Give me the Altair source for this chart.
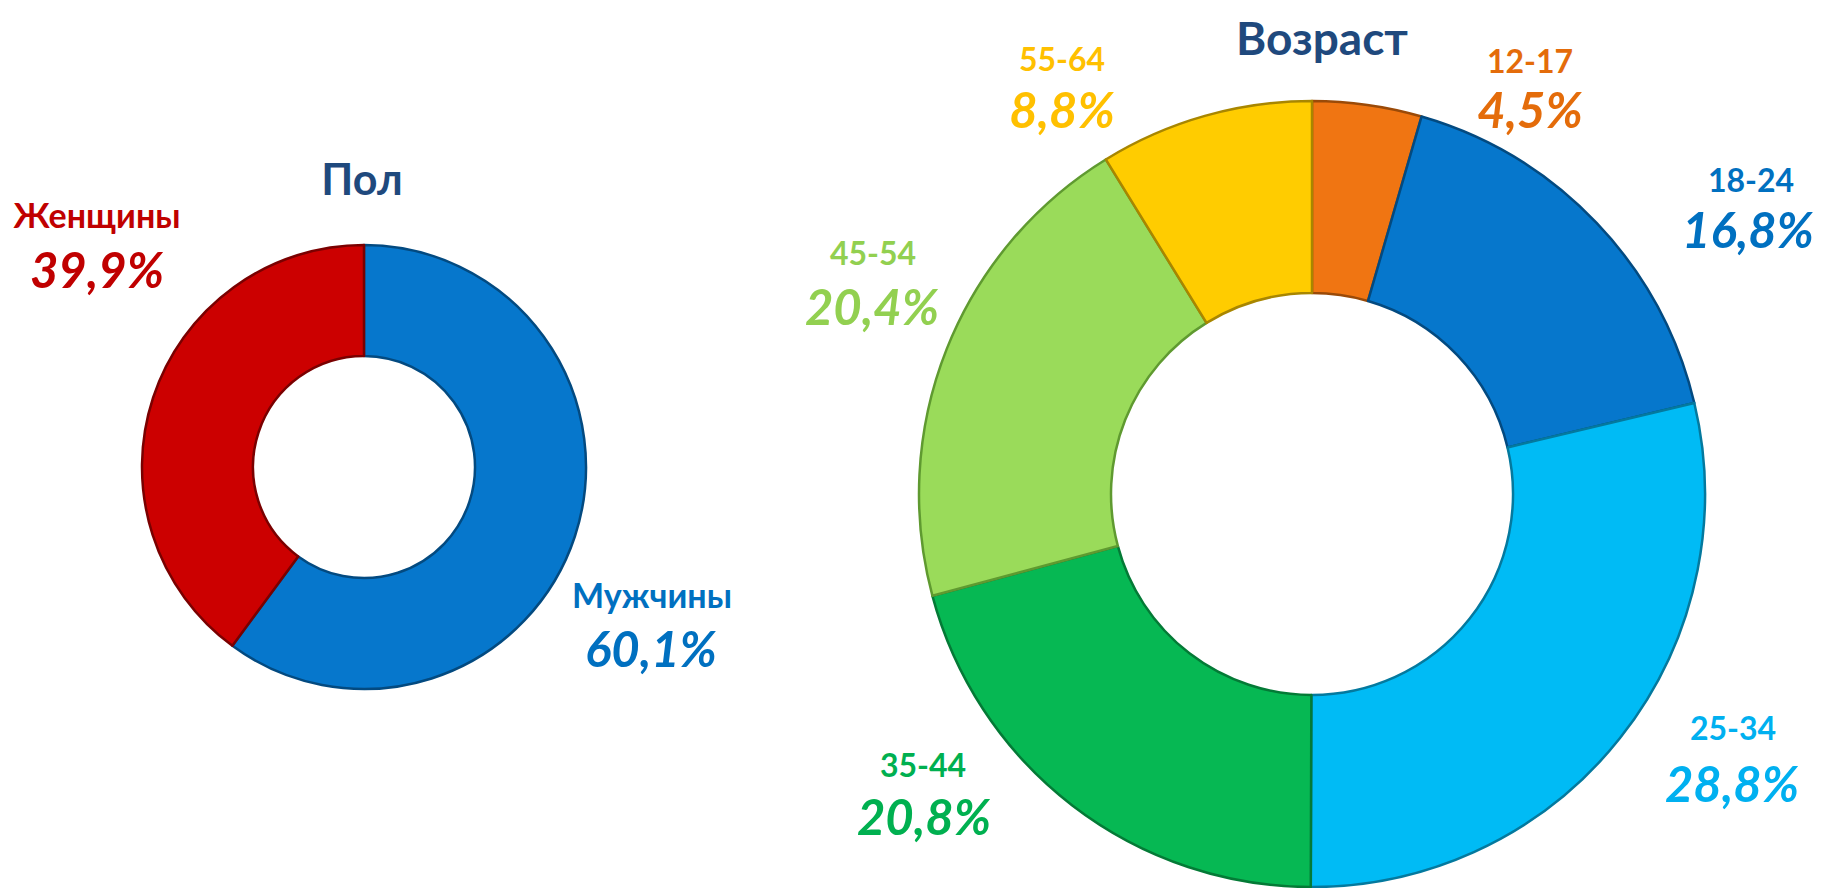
import altair as alt
import pandas as pd

# ---- data ----
gender_labels = ["Мужчины", "Женщины"]
gender_values = [60.1, 39.9]
age_labels = ["12-17", "18-24", "25-34", "35-44", "45-54", "55-64"]
age_values = [4.5, 16.8, 28.8, 20.8, 20.4, 8.8]
titles = ["Пол", "Возраст"]

# ---- styles / layout ----
gender_fill = ["#0677CC", "#CC0000"]
gender_edge = ["#034A80", "#7A0000"]
gender_text = ["#0070C0", "#C00000"]
age_fill = ["#F07512", "#0677CC", "#00BBF5", "#06B853", "#9ADB5A", "#FFCC00"]
age_edge = ["#9A4A08", "#034A80", "#04799E", "#047A36", "#5F9A30", "#A88600"]
age_text = ["#E46C0A", "#0070C0", "#00B0F0", "#00B050", "#92D050", "#FFC000"]
title_color = "#1F497D"
FONT = "Lato"

PAD_TOP = 20
W, H = 1806, 860
OFF_X = 8             # page margin
OFF_Y = 8 + PAD_TOP   # page margin + top padding
# donut centres and radii (pixels in the page)
g_cx, g_cy, g_ro, g_ri = 364, 467, 222, 111
a_cx, a_cy, a_ro, a_ri = 1312, 494, 393, 201
# label anchor positions (category x, baseline, percent x, baseline)
gender_lab_pos = [(652, 608, 651, 667), (97, 228, 97, 288)]
age_lab_pos = [
    (1530, 73, 1530, 128),
    (1751, 192, 1748, 248),
    (1733, 740, 1732, 802),
    (923, 777, 924, 835),
    (873, 265, 872, 325),
    (1062, 71, 1062, 128),
]
title_pos = [(362, 195, 43), (1322, 55, 46)]


def pct(v):
    return f"{v:.1f}".replace(".", ",") + "%"


def donut_df(labels, values):
    return pd.DataFrame({"label": labels, "value": values, "idx": range(len(labels))})


def label_df(labels, values, pos, colors):
    return pd.DataFrame({
        "label": labels,
        "pct": [pct(v) for v in values],
        "lx": [p[0] - OFF_X for p in pos],
        "ly": [p[1] - OFF_Y for p in pos],
        "px": [p[2] - OFF_X for p in pos],
        "py": [p[3] - OFF_Y for p in pos],
        "tcolor": colors,
    })


def donut(labels, values, fills, edges, cx, cy, ro, ri):
    return alt.Chart(donut_df(labels, values)).mark_arc(
        outerRadius=ro, innerRadius=ri, strokeWidth=2.5, strokeJoin="round"
    ).encode(
        theta=alt.Theta("value:Q", stack=True),
        order=alt.Order("idx:Q"),
        color=alt.Color("label:N", scale=alt.Scale(domain=labels, range=fills), legend=None),
        stroke=alt.Stroke("label:N", scale=alt.Scale(domain=labels, range=edges), legend=None),
        x=alt.value(cx - OFF_X),
        y=alt.value(cy - OFF_Y),
    )


def labels_layer(df, cat_size):
    cat = alt.Chart(df).mark_text(
        font=FONT, fontWeight="bold", fontSize=cat_size, align="center", baseline="alphabetic"
    ).encode(
        x=alt.X("lx:Q", scale=None),
        y=alt.Y("ly:Q", scale=None),
        text="label:N",
        color=alt.Color("tcolor:N", scale=None),
    )
    val = alt.Chart(df).mark_text(
        font=FONT, fontWeight="bold", fontStyle="italic", fontSize=49, align="center", baseline="alphabetic"
    ).encode(
        x=alt.X("px:Q", scale=None),
        y=alt.Y("py:Q", scale=None),
        text="pct:N",
        color=alt.Color("tcolor:N", scale=None),
    )
    return cat + val


title_df = pd.DataFrame({
    "t": titles,
    "tx": [p[0] - OFF_X for p in title_pos],
    "ty": [p[1] - OFF_Y for p in title_pos],
    "ts": [p[2] for p in title_pos],
})
title_layer = alt.Chart(title_df).mark_text(
    font=FONT, fontWeight="bold", align="center", baseline="alphabetic", color=title_color
).encode(
    x=alt.X("tx:Q", scale=None),
    y=alt.Y("ty:Q", scale=None),
    size=alt.Size("ts:Q", scale=None, legend=None),
    text="t:N",
)

g_donut = donut(gender_labels, gender_values, gender_fill, gender_edge, g_cx, g_cy, g_ro, g_ri)
a_donut = donut(age_labels, age_values, age_fill, age_edge, a_cx, a_cy, a_ro, a_ri)

chart = alt.layer(
    g_donut,
    a_donut,
    labels_layer(label_df(gender_labels, gender_values, gender_lab_pos, gender_text), 34),
    labels_layer(label_df(age_labels, age_values, age_lab_pos, age_text), 32),
    title_layer,
).resolve_scale(
    theta="independent", color="independent", stroke="independent"
).properties(
    width=W, height=H,
    autosize=alt.AutoSizeParams(type="none"),
    padding={"left": 0, "top": PAD_TOP, "right": 0, "bottom": 0},
    background="white",
).configure_view(strokeWidth=0)

chart.save("out.html", embed_options={"renderer": "svg", "actions": False})
